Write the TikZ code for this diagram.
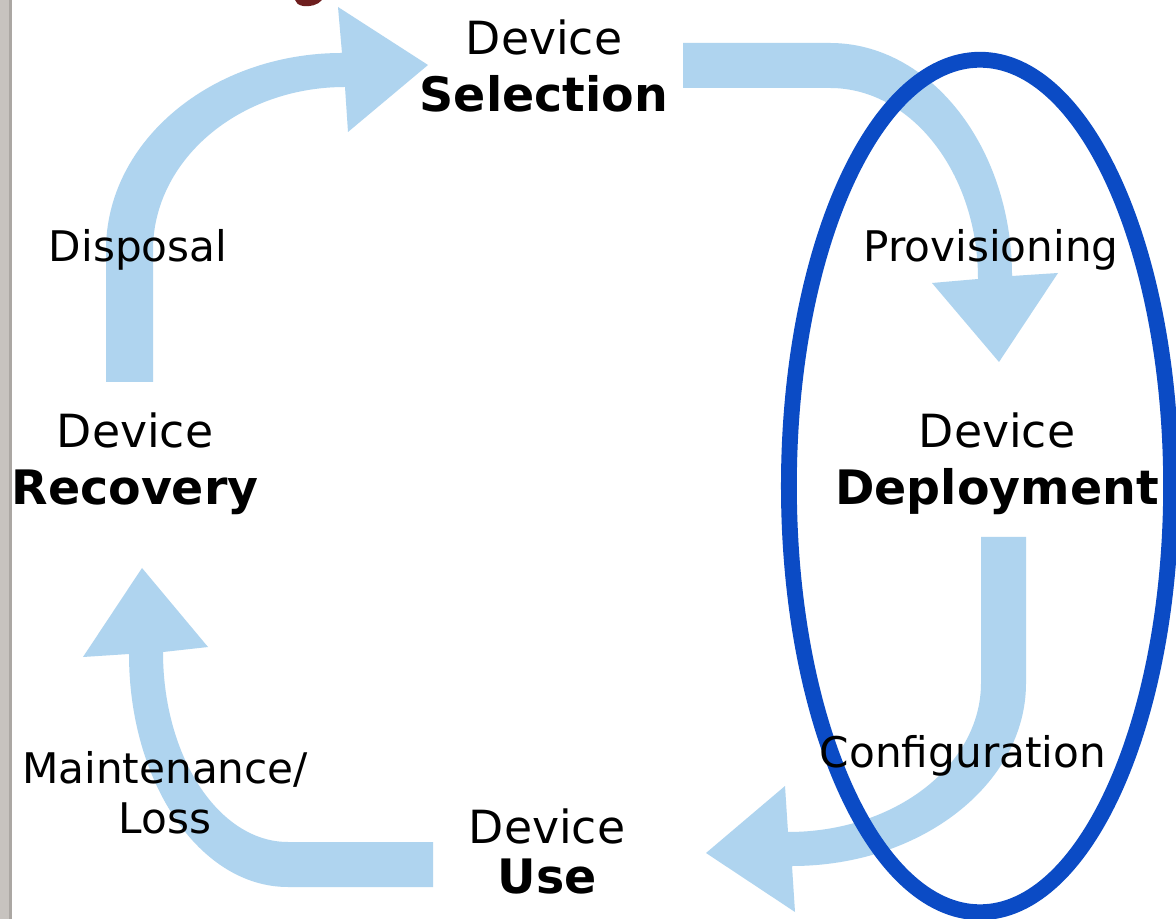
\documentclass[tikz,border=0pt]{standalone}
\usepackage{fontspec}
\setmainfont{DejaVu Sans}

\definecolor{flowblue}{HTML}{AFD4EF}
\definecolor{ringblue}{HTML}{0B4BC5}
\definecolor{bargrey}{HTML}{C7C3BF}
\definecolor{bardark}{HTML}{ABA7A3}
\definecolor{titlered}{HTML}{6E1E1E}

\newcommand{\stagename}[1]{{\fontsize{13.5pt}{16.2pt}\selectfont\bfseries #1}}

\tikzset{
  flow/.style={fill=flowblue},
  stage/.style={align=center,font=\fontsize{13pt}{16.2pt}\selectfont},
  label/.style={anchor=base,font=\fontsize{12pt}{14.2pt}\selectfont}
}

\begin{document}
\begin{tikzpicture}[x=0.01cm,y=-0.01cm]
\useasboundingbox (0, 0) rectangle (1176, 919);
\fill [color=white] (0, 0) rectangle (1176, 919);

% slide edge and the cut-off title letter
\fill [color=bargrey] (0, 0) rectangle (12, 919);
\fill [color=bardark] (9, 0) rectangle (12, 919);
\fill [color=titlered] (295, 0) -- (322, 0) .. controls (318, 5) and (310, 7) .. (303, 6) .. controls (298, 5) and (296, 3) .. (295, 0) -- cycle;

% curved arrows of the cycle
\fill [flow] (106, 382) -- (106, 250) .. controls (106, 141) and (212, 53) .. (342, 53) -- (338, 7) -- (428, 65) -- (348, 132) -- (345, 87) .. controls (239, 87) and (153, 160) .. (153, 250) -- (153, 382) -- cycle;
\fill [flow] (683, 43) -- (830, 43) .. controls (930, 43) and (1012, 147) .. (1012, 276) -- (1058, 273) -- (999, 362) -- (932, 283) -- (978, 279) .. controls (978, 174) and (912, 88) .. (830, 88) -- (683, 88) -- cycle;
\fill [flow] (981, 537) -- (1026, 537) -- (1026, 683) .. controls (1026, 784) and (921, 866) .. (792, 866) -- (795, 912) -- (706, 853) -- (785, 786) -- (788, 832) .. controls (895, 832) and (981, 765) .. (981, 683) -- cycle;
\fill [flow] (433, 842) -- (433, 887) -- (288, 887) .. controls (200, 887) and (129, 783) .. (129, 654) -- (83, 657) -- (142, 568) -- (208, 647) -- (163, 652) .. controls (163, 757) and (219, 842) .. (288, 842) -- cycle;

% highlight round deployment
\draw [color=ringblue,line width=4.5pt] (980, 486) ellipse [x radius=1.91cm, y radius=4.26cm];

\node (sel) at (544, 66) [stage] {Device\\\stagename{Selection}};
\node (dep) at (997, 464) [stage] {Device\\\stagename{Deployment}};
\node (use) at (547, 851) [stage,font=\fontsize{13pt}{14.2pt}\selectfont] {Device\\\stagename{Use}};
\node (rec) at (135, 464) [stage] {Device\\\stagename{Recovery}};

\node (disp) at (138, 262) [label] {Disposal};
\node (prov) at (991, 262) [label] {Provisioning};
\node (conf) at (963, 767) [label] {Configuration};
\node (maint) at (165, 793) [align=center,font=\fontsize{12pt}{14.2pt}\selectfont] {Maintenance/\\Loss};
\end{tikzpicture}
\end{document}
